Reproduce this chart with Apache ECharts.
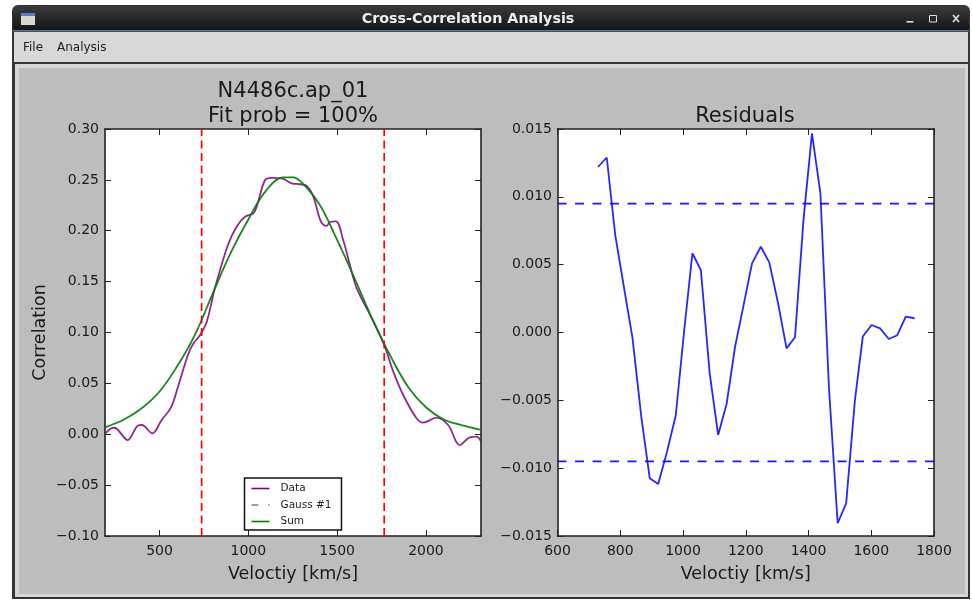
<!DOCTYPE html>
<html><head><meta charset="utf-8">
<style>html,body{margin:0;padding:0;background:#fff}#c{width:972px;height:600px}</style>
<script src="https://cdn.jsdelivr.net/npm/echarts@6/dist/echarts.min.js"></script>
</head><body><div id="c"></div>
<script>
const dataV=[193,240,261,321,379,401,459,512,565,604,660,689,728,766,812,885,934,981,1028,1047,1094,1131,1188,1244,1291,1329,1366,1409,1441,1459,1493,1534,1572,1610,1703,1769,1816,1872,1947,1985,2060,2125,2191,2247,2285,2310];
const dataC=[0.0002,0.0064,0.0052,-0.0057,0.0086,0.0091,0.0009,0.014,0.0265,0.0467,0.0779,0.0887,0.0975,0.1106,0.1437,0.186,0.204,0.2138,0.2171,0.2236,0.2499,0.252,0.2515,0.2466,0.2457,0.244,0.2335,0.2089,0.2047,0.2086,0.2093,0.1909,0.1663,0.1437,0.1113,0.086,0.0615,0.0386,0.0157,0.0114,0.0163,0.0091,-0.0106,-0.003,-0.0024,-0.0073];
const sumV=[193,300,400,500,600,700,800,900,1000,1100,1200,1250,1300,1400,1500,1600,1700,1800,1900,2000,2100,2200,2310];
const sumC=[0.0068,0.0145,0.0255,0.042,0.067,0.098,0.1385,0.178,0.211,0.2395,0.2525,0.2525,0.2475,0.226,0.191,0.1525,0.1125,0.077,0.0465,0.0265,0.0145,0.009,0.0042];
const gaussV=sumV, gaussC=sumC;
const fitLimits=[737,1765];
const resV=[729,757,784,812,839,867,894,921,949,977,1004,1030,1057,1085,1112,1139,1166,1193,1220,1248,1275,1302,1330,1357,1384,1411,1438,1465,1493,1520,1548,1573,1601,1628,1656,1683,1710,1738];
const resC=[0.0122,0.0129,0.0072,0.0033,-0.0004,-0.0062,-0.01075,-0.01117,-0.0088,-0.0061,0.0002,0.00584,0.0046,-0.003,-0.00755,-0.00527,-0.00105,0.002,0.0051,0.00632,0.00517,0.00227,-0.00117,-0.00035,0.0083,0.01468,0.01026,-0.004,-0.01406,-0.01259,-0.00498,-0.0003,0.00055,0.0003,-0.00048,-0.0002,0.00117,0.00105];
const resLimit=0.0095;
const leftXTicks=[500,1000,1500,2000];
const leftYTicks=[-0.10,-0.05,0,0.05,0.10,0.15,0.20,0.25,0.30];
const rightXTicks=[600,800,1000,1200,1400,1600,1800];
const rightYTicks=[-0.015,-0.010,-0.005,0,0.005,0.010,0.015];
const zip=(a,b)=>a.map((v,i)=>[v,b[i]]);
const FF='"DejaVu Sans"';
const ink='#1a1a1a';
const minus=s=>s.replace('-','\u2212');
function ax(extra,ticks,fmt,labels,pad){
  const o=Object.assign({
    axisLine:{show:true,onZero:false,lineStyle:{color:'#222',width:1.6}},
    axisTick:{show:true,inside:true,length:6,customValues:ticks,lineStyle:{color:'#222',width:1}},
    splitLine:{show:false},
    axisPointer:{show:false}
  },extra);
  o.axisLabel=labels?{show:true,customValues:ticks,formatter:fmt,color:ink,fontFamily:FF,fontSize:14,margin:labels,padding:pad||0}:{show:false};
  return o;
}
const nameStyle={color:ink,fontFamily:FF,fontSize:17.5};
const option={
  animation:false,backgroundColor:'#fff',
  title:[
    {text:'N4486c.ap_01\nFit prob = 100%',left:288,top:74,textAlign:'center',textStyle:{color:ink,fontFamily:FF,fontSize:21,fontWeight:'normal',lineHeight:25}},
    {text:'Residuals',left:740,top:99,textAlign:'center',textStyle:{color:ink,fontFamily:FF,fontSize:21,fontWeight:'normal',lineHeight:25}}
  ],
  grid:[
    {left:105,top:129,width:376,height:407,show:true,backgroundColor:'#fff',borderWidth:0},
    {left:557.5,top:129,width:376.5,height:407,show:true,backgroundColor:'#fff',borderWidth:0}
  ],
  xAxis:[
    ax({type:'value',gridIndex:0,position:'bottom',min:193,max:2310,name:'Velocti\u0079 [km/s]',nameLocation:'middle',nameGap:29,nameTextStyle:nameStyle},leftXTicks,v=>String(v),8),
    ax({type:'value',gridIndex:0,position:'top',min:193,max:2310},leftXTicks),
    ax({type:'value',gridIndex:1,position:'bottom',min:600,max:1800,name:'Velocti\u0079 [km/s]',nameLocation:'middle',nameGap:29,nameTextStyle:nameStyle},rightXTicks,v=>String(v),8),
    ax({type:'value',gridIndex:1,position:'top',min:600,max:1800},rightXTicks)
  ],
  yAxis:[
    ax({type:'value',gridIndex:0,position:'left',min:-0.1,max:0.3,name:'Correlation',nameLocation:'middle',nameGap:56,nameTextStyle:nameStyle},leftYTicks,v=>minus(v.toFixed(2)),6,[2,0,0,0]),
    ax({type:'value',gridIndex:0,position:'right',min:-0.1,max:0.3},leftYTicks),
    ax({type:'value',gridIndex:1,position:'left',min:-0.015,max:0.015},rightYTicks,v=>minus(v.toFixed(3)),5.5,[2,0,0,0]),
    ax({type:'value',gridIndex:1,position:'right',min:-0.015,max:0.015},rightYTicks)
  ],
  legend:{
    left:244.5,top:478,orient:'vertical',
    data:[
      {name:'Data',icon:'rect',itemStyle:{color:'#800080'}},
      {name:'Gauss #1',icon:'path://M0 0h5v1H0zM12 0h1v1h-1z',itemStyle:{color:'#808080'}},
      {name:'Sum',icon:'rect',itemStyle:{color:'#008000'}}
    ],
    backgroundColor:'#fff',borderColor:'#111',borderWidth:1.5,borderRadius:0,
    padding:[5,10,3,7],itemWidth:18,itemHeight:1.6,itemGap:5.5,
    textStyle:{color:ink,fontFamily:FF,fontSize:10.5,padding:[0,0,0,6]}
  },
  series:[
    {name:'Gauss #1',type:'line',xAxisIndex:0,yAxisIndex:0,data:zip(gaussV,gaussC),smooth:0.3,symbol:'none',z:2,lineStyle:{color:'#808080',width:1,type:[4,6,1,6]},itemStyle:{color:'#808080'}},
    {name:'Data',type:'line',xAxisIndex:0,yAxisIndex:0,data:zip(dataV,dataC),smooth:0.35,symbol:'none',z:3,lineStyle:{color:'#800080',width:1.8,opacity:0.85},itemStyle:{color:'#800080'}},
    {name:'Sum',type:'line',xAxisIndex:0,yAxisIndex:0,data:zip(sumV,sumC),smooth:0.4,symbol:'none',z:4,lineStyle:{color:'#008000',width:1.8,opacity:0.9},itemStyle:{color:'#008000'}},
    ...fitLimits.map(v=>({type:'line',xAxisIndex:0,yAxisIndex:0,data:[[v,-0.1],[v,0.3]],symbol:'none',z:5,lineStyle:{color:'#ff0000',width:1.7,type:[8,4.5]}})),
    {name:'Residuals',type:'line',xAxisIndex:2,yAxisIndex:2,data:zip(resV,resC),symbol:'none',z:3,lineStyle:{color:'#0000ff',width:1.8,opacity:0.85}},
    ...[resLimit,-resLimit].map(v=>({type:'line',xAxisIndex:2,yAxisIndex:2,data:[[600,v],[1800,v]],symbol:'none',z:4,lineStyle:{color:'#0000ff',width:1.7,opacity:0.9,type:[9,8.5]}}))
  ],
  graphic:[
    {type:'rect',z:-10,shape:{x:12,y:5,width:958,height:594,r:[6,6,0,0]},style:{fill:'#333'}},
    {type:'rect',z:-9,shape:{x:13,y:6,width:956,height:25,r:[5,5,0,0]},style:{fill:{type:'linear',x:0,y:0,x2:0,y2:1,colorStops:[{offset:0,color:'#3a3a3a'},{offset:1,color:'#141414'}]}}},
    {type:'rect',z:-9,shape:{x:13,y:30,width:956,height:1.5},style:{fill:'#5a7391'}},
    {type:'rect',z:-9,shape:{x:14,y:32,width:954,height:30},style:{fill:'#d8d8d8'}},
    {type:'rect',z:-9,shape:{x:15,y:64,width:953,height:533},style:{fill:'#d6d6d6'}},
    {type:'rect',z:-8,shape:{x:19,y:68,width:946,height:526},style:{fill:'#bdbdbd'}},
    {type:'text',z:-7,style:{x:468,y:19,text:'Cross-Correlation Analysis',fill:'#eee',font:'bold 14.3px "DejaVu Sans"',align:'center',verticalAlign:'middle'}},
    {type:'text',z:-7,style:{x:23,y:48,text:'File',fill:'#222',font:'12px "DejaVu Sans"',verticalAlign:'middle'}},
    {type:'text',z:-7,style:{x:57,y:48,text:'Analysis',fill:'#222',font:'12px "DejaVu Sans"',verticalAlign:'middle'}},
    {type:'rect',z:-7,shape:{x:21,y:13,width:14,height:12},style:{fill:'#d8d8d0'}},
    {type:'rect',z:-6,shape:{x:21,y:13,width:14,height:3},style:{fill:'#5a7fc0'}},
    {type:'rect',z:-7,shape:{x:906.5,y:21,width:7,height:1.6},style:{fill:'#ddd'}},
    {type:'rect',z:-7,shape:{x:929.5,y:15.5,width:7,height:6.5},style:{fill:'none',stroke:'#ddd',lineWidth:1}},
    {type:'line',z:-7,shape:{x1:953,y1:15,x2:959,y2:22},style:{stroke:'#ddd',lineWidth:1.8}},
    {type:'line',z:-7,shape:{x1:959,y1:15,x2:953,y2:22},style:{stroke:'#ddd',lineWidth:1.8}}
  ]
};
const chart=echarts.init(document.getElementById('c'),null,{renderer:'canvas'});
chart.setOption(option);
</script></body></html>
